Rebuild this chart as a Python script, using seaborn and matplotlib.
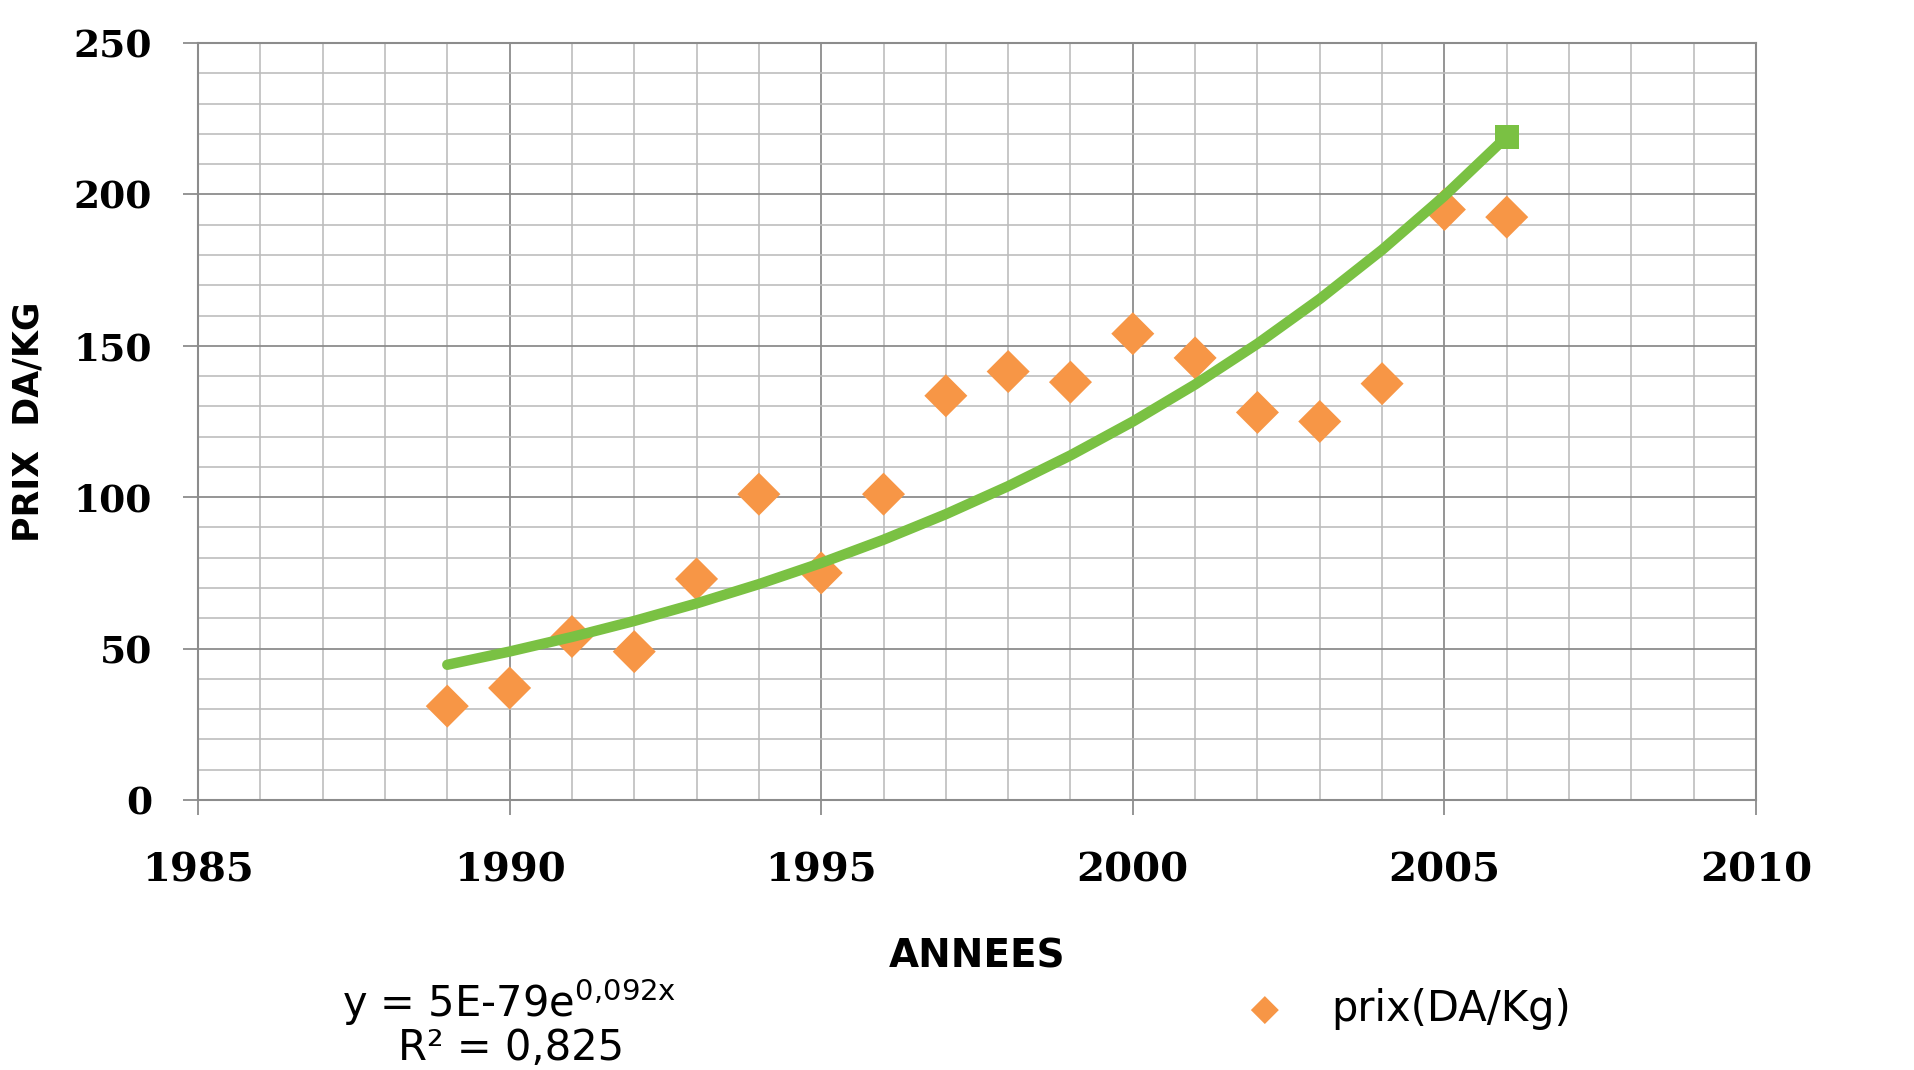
import numpy as np
import pandas as pd
import matplotlib
matplotlib.use("Agg")
import matplotlib.pyplot as plt
import seaborn as sns
from matplotlib.ticker import MultipleLocator

# prix moyen (DA/Kg) par année
annees = [1989, 1990, 1991, 1992, 1993, 1994, 1995, 1996, 1997,
          1998, 1999, 2000, 2001, 2002, 2003, 2004, 2005, 2006]
prix = [31, 37, 54, 49, 73, 101, 75, 101, 133.5,
        141.5, 138, 154, 146, 128, 125, 137.5, 195, 192.5]

equation = "y = 5E-79e$^{\\mathregular{0{,}092x}}$"
r2_text = "R² = 0,825"
serie_label = "prix(DA/Kg)"

ORANGE = "#F79646"
GREEN = "#7AC143"

df = pd.DataFrame({"annee": annees, "prix": prix})

# courbe de tendance exponentielle (ajustement sur ln(prix))
b, ln_a = np.polyfit(df["annee"], np.log(df["prix"]), 1)
df["tendance"] = np.exp(ln_a + b * df["annee"])

sns.set_style("white")
plt.rcParams["text.color"] = "black"
fig = plt.figure(figsize=(19.15, 10.7), dpi=100)
W, H = 1915, 1070
ax = fig.add_axes([198 / W, 1 - 800 / H, (1756 - 198) / W, (800 - 43) / H])

sns.scatterplot(data=df, x="annee", y="prix", marker="D", s=480, color=ORANGE,
                edgecolor="none", label=serie_label, ax=ax, zorder=3)
sns.lineplot(data=df, x="annee", y="tendance", color=GREEN, linewidth=7.5,
             marker="s", markersize=17, markevery=[len(df) - 1],
             markeredgewidth=0, ax=ax, zorder=4, legend=False)

ax.set_xlim(1985, 2010)
ax.set_ylim(0, 250)
ax.xaxis.set_major_locator(MultipleLocator(5))
ax.xaxis.set_minor_locator(MultipleLocator(1))
ax.yaxis.set_major_locator(MultipleLocator(50))
ax.yaxis.set_minor_locator(MultipleLocator(10))
ax.grid(which="major", color="#8c8c8c", linewidth=1.3)
ax.grid(which="minor", color="#bdbdbd", linewidth=1.2)
ax.set_axisbelow(True)
for s in ax.spines.values():
    s.set_color("#8c8c8c")
    s.set_linewidth(1.5)

ax.tick_params(which="major", direction="out", length=11, width=1.3, color="#8c8c8c",
               labelcolor="black", bottom=True, left=True)
ax.tick_params(which="minor", length=0)
ax.tick_params(axis="x", pad=26)
ax.tick_params(axis="y", pad=22)
for lab in ax.get_xticklabels():
    lab.set_fontfamily("DejaVu Serif")
    lab.set_fontweight("bold")
    lab.set_fontsize(29)
for lab in ax.get_yticklabels():
    lab.set_fontfamily("DejaVu Serif")
    lab.set_fontweight("bold")
    lab.set_fontsize(27)

ax.set_xlabel("ANNEES", fontsize=28, fontweight="bold", family="DejaVu Sans",
              color="black")
ax.xaxis.set_label_coords(0.5, -0.182)
ax.set_ylabel("PRIX  DA/KG", fontsize=25, fontweight="bold", family="DejaVu Sans",
              color="black")
ax.yaxis.set_label_coords(-0.098, 0.5)

fig.text(509 / W, 1 - 1002 / H, equation, fontsize=30, ha="center", va="center",
         family="DejaVu Sans", color="black")
fig.text(511 / W, 1 - 1048 / H, r2_text, fontsize=30, ha="center", va="center",
         family="DejaVu Sans", color="black")

ax.legend(loc="center left", bbox_to_anchor=(1244 / W, 1 - 1009 / H),
          bbox_transform=fig.transFigure, frameon=False, borderpad=0,
          borderaxespad=0, handlelength=1, handletextpad=1.1, markerscale=0.65,
          labelcolor="black", prop={"family": "DejaVu Sans", "size": 30})

fig.savefig("out.png", dpi=100)
